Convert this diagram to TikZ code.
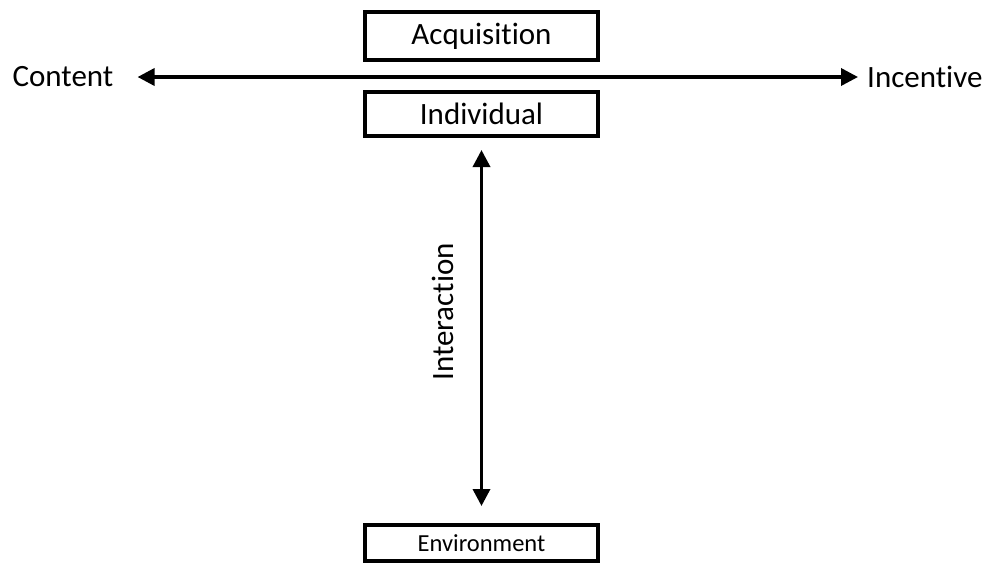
\documentclass[tikz,border=0pt]{standalone}
\usepackage{fontspec}
\setmainfont{Carlito}[Ligatures={NoCommon}]
\usetikzlibrary{arrows.meta}
\begin{document}
\begin{tikzpicture}[x=1pt, y=-1pt,
        box/.style={draw, line width=4pt, minimum width=233pt, inner sep=0pt},
        lbl/.style={inner sep=0pt, font=\fontsize{31}{36}\selectfont},
        axis/.style={line width=3.5pt, {Triangle[length=17pt,width=17pt]}-{Triangle[length=17pt,width=17pt]}}]
            \useasboundingbox (0, 0) rectangle (990, 565);

            \node[box, minimum height=48pt, lbl] (acq) at (481.5, 36) { Acquisition };
            \node[box, minimum height=44pt, lbl] (ind) at (481.5, 114) { Individual };
            \node[box, minimum height=36pt, font=\fontsize{24.5}{28}\selectfont] (env) at (481.5, 543) { Environment };

            \node[lbl] (cont) at (63, 77) { Content };
            \node[lbl, anchor=west] (inc) at (867, 77) { Incentive };
            \node[lbl, rotate=90] (inter) at (443, 312) { Interaction };

            \draw[axis, shorten <=24pt, shorten >=9pt] (cont.east) -- (inc.west);
            \draw[axis, shorten <=12pt, shorten >=17pt] (ind.south) -- (env.north);
        \end{tikzpicture}
\end{document}
